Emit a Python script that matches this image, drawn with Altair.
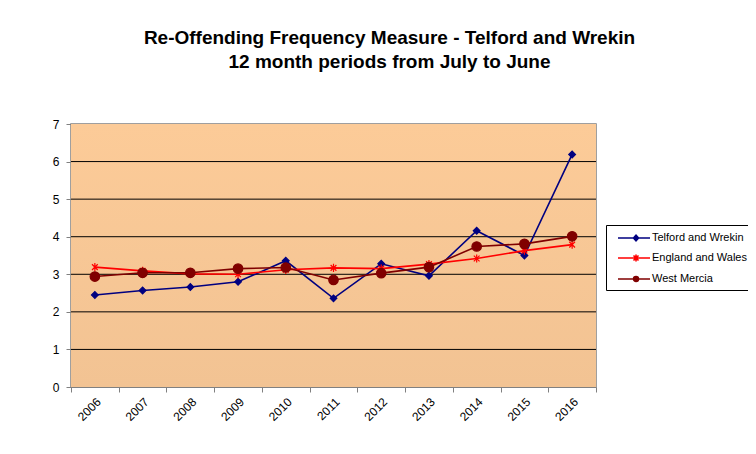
import altair as alt
import pandas as pd

years = ["2006", "2007", "2008", "2009", "2010", "2011", "2012", "2013", "2014", "2015", "2016"]
telford = [2.45, 2.57, 2.66, 2.80, 3.36, 2.36, 3.28, 2.96, 4.16, 3.50, 6.19]
england = [3.19, 3.09, 3.01, 3.00, 3.12, 3.17, 3.15, 3.27, 3.42, 3.63, 3.79]
mercia = [2.94, 3.04, 3.04, 3.15, 3.18, 2.85, 3.03, 3.19, 3.74, 3.81, 4.01]
y_ticks = [0, 1, 2, 3, 4, 5, 6, 7]
grid_values = [1, 2, 3, 4, 5, 6]

series = ["Telford and Wrekin", "England and Wales", "West Mercia"]
colors = ["#000080", "#FF0000", "#800000"]
fills = ["#000080", "transparent", "#800000"]

rows = []
for name, vals in zip(series, [telford, england, mercia]):
    for y, v in zip(years, vals):
        rows.append({"year": y, "value": v, "series": name})
df = pd.DataFrame(rows)
grid_df = pd.DataFrame({"value": grid_values})

W, H = 525, 263
PAD = {"left": 63, "top": 116, "right": 152, "bottom": 59}
FONT = "Liberation Sans"
asterisk = "M-0.7,-0.7L0.7,0.7M-0.7,0.7L0.7,-0.7M0,-1L0,1"
# legend symbols (unit = 7px): line from -0.143 to 4.43, marker centred at 2.43
leg_diamond = "M-0.143,0L4.43,0M2.07,0L2.43,-0.4L2.79,0L2.43,0.4Z"
leg_star = "M-0.143,0L4.43,0M2.07,-0.36L2.79,0.36M2.07,0.36L2.79,-0.36M2.43,-0.5L2.43,0.5"
leg_circle = "M-0.143,0L4.43,0M2.076,0A0.354,0.354,0,1,1,2.784,0A0.354,0.354,0,1,1,2.076,0Z"

x_scale = alt.Scale(type="band", paddingInner=0, paddingOuter=0)
y_scale = alt.Scale(domain=[0, 7], nice=False)

x_axis = alt.Axis(
    labelAngle=-45,
    tickBand="extent",
    labelFont=FONT,
    labelFontSize=12,
    labelColor="#000000",
    domainColor="#808080",
    tickColor="#808080",
    tickSize=5,
    labelPadding=4,
    grid=False,
)
y_axis = alt.Axis(
    values=y_ticks,
    labelFont=FONT,
    labelFontSize=12,
    labelColor="#000000",
    domainColor="#808080",
    tickColor="#808080",
    tickSize=5,
    labelPadding=7,
    labelOverlap=False,
    grid=False,
)

x_enc = alt.X("year:O", title=None, sort=years, scale=x_scale, axis=x_axis)
y_enc = alt.Y("value:Q", title=None, scale=y_scale, axis=y_axis)

background = alt.Chart(df).mark_rect(
    color=alt.LinearGradient(
        gradient="linear", x1=0, y1=0, x2=0, y2=1,
        stops=[alt.GradientStop(offset=0, color="#FCCB98"), alt.GradientStop(offset=1, color="#F2C393")],
    )
).encode(x=alt.value(0), x2=alt.value(W), y=alt.value(0), y2=alt.value(H))

grid = alt.Chart(grid_df).mark_rule(color="#000000", strokeWidth=1).encode(y=y_enc)

lines = alt.Chart(df).mark_line(strokeWidth=1.6).encode(
    x=x_enc,
    y=y_enc,
    color=alt.Color("series:N", scale=alt.Scale(domain=series, range=colors), legend=None),
    order=alt.Order("year:O"),
)

points = alt.Chart(df).mark_point(filled=False, opacity=1, strokeWidth=1.2).encode(
    x=x_enc,
    y=y_enc,
    color=alt.Color("series:N", scale=alt.Scale(domain=series, range=colors), legend=None),
    fill=alt.Fill("series:N", scale=alt.Scale(domain=series, range=fills), legend=None),
    shape=alt.Shape(
        "series:N",
        scale=alt.Scale(domain=series, range=["diamond", asterisk, "circle"]),
        legend=None,
    ),
    size=alt.Size(
        "series:N",
        scale=alt.Scale(domain=series, range=[45, 90, 50]),
        legend=None,
    ),
)

leg_props = dict(
    title=None,
    orient="none",
    legendX=535,
    legendY=101,
    symbolSize=196,
    symbolStrokeWidth=1.6,
    labelFont=FONT,
    labelFontSize=11,
    labelColor="#000000",
    strokeColor="#000000",
    fillColor="#FFFFFF",
    padding=5,
    rowPadding=6,
    labelOffset=25,
)

legend_layer = alt.Chart(df).mark_point(
    filled=True, clip=True, size=196, opacity=1, strokeWidth=1.6
).encode(
    x=x_enc,
    y=alt.Y(datum=-50, scale=y_scale, axis=y_axis),
    fill=alt.Fill("series:N", sort=series, scale=alt.Scale(domain=series, range=colors), legend=alt.Legend(**leg_props)),
    stroke=alt.Stroke("series:N", sort=series, scale=alt.Scale(domain=series, range=colors), legend=alt.Legend(**leg_props)),
    shape=alt.Shape(
        "series:N",
        sort=series,
        scale=alt.Scale(domain=series, range=[leg_diamond, leg_star, leg_circle]),
        legend=alt.Legend(**leg_props),
    ),
)

chart = (
    alt.layer(background, grid, lines, points, legend_layer)
    .resolve_scale(shape="independent", size="independent", fill="independent", stroke="independent", color="independent")
    .properties(
        width=W,
        height=H,
        autosize=alt.AutoSizeParams(type="none"),
        padding=PAD,
        background="#FFFFFF",
        title=alt.Title(
            ["Re-Offending Frequency Measure - Telford and Wrekin", "12 month periods from July to June"],
            font=FONT,
            fontSize=19,
            fontWeight="bold",
            color="#000000",
            anchor="middle",
            dx=56,
            offset=46,
            lineHeight=24,
        ),
    )
    .configure_view(stroke="#808080", strokeWidth=1.5)
)

chart.save("out.html", embed_options={"renderer": "svg", "actions": False})
